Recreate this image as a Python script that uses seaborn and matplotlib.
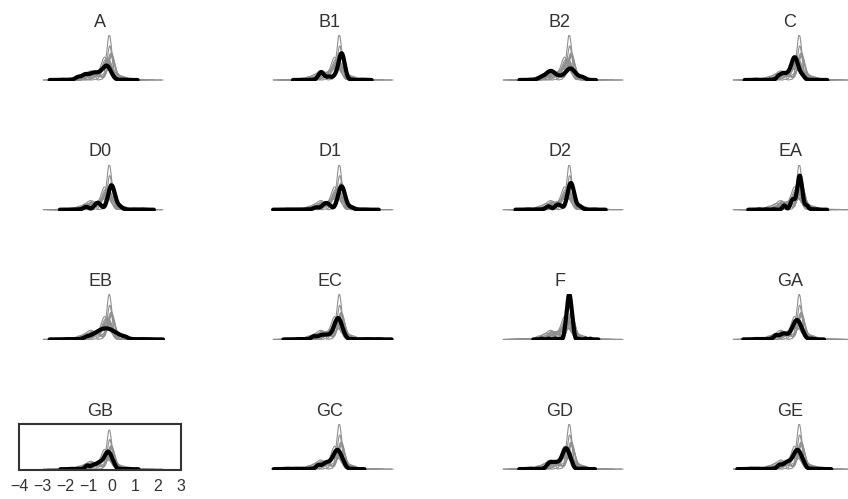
import pandas as pd
import seaborn as sns
import matplotlib.pyplot as plt

sns.set_theme(style="white")
plt.rcParams['font.family'] = ['Liberation Sans', 'DejaVu Sans']

# groups, in panel order
groups = ["A", "B1", "B2", "C", "D0", "D1", "D2", "EA",
          "EB", "EC", "F", "GA", "GB", "GC", "GD", "GE"]

# observations per group: the bulk of each distribution ...
a_body = [-1.45, -1.2, -1.095, -0.918, -0.8, -0.7, -0.58, -0.45, -0.39, -0.3,
          -0.24, -0.2, -0.16, -0.1, 0.0]
b1_body = [-0.96, -0.88, -0.8, -0.55, -0.3, -0.15, -0.1, -0.068, -0.042, -0.021, 0.0,
           0.021, 0.042, 0.068, 0.1, 0.15]
b2_body = [-1.3, -1.08, -0.98, -0.9, -0.82, -0.72, -0.5, -0.3, -0.18, -0.1, -0.05,
           0.0, 0.08, 0.2, 0.45]
c_body = [-1.0, -0.85, -0.75, -0.62, -0.52, -0.443, -0.398, -0.361, -0.33, -0.3,
          -0.27, -0.239, -0.202, -0.157, -0.08, 0.05]
d0_body = [-1.1, -0.7, -0.6, -0.5, -0.17, -0.11, -0.075, -0.047, -0.023, 0.0,
           0.023, 0.047, 0.075, 0.11, 0.17, 0.35]
d1_body = [-1.1, -0.8, -0.7, -0.62, -0.52, -0.17, -0.12, -0.087, -0.062, -0.04,
           -0.019, 0.0, 0.019, 0.04, 0.062, 0.087, 0.12, 0.17, 0.4]
d2_body = [-1.0, -0.65, -0.5, -0.2, -0.14, -0.105, -0.078, -0.053, -0.03, -0.007,
           0.018, 0.045, 0.08, 0.14, 0.35]
ea_body = [-0.75, -0.45, -0.38, -0.32, -0.2, -0.16, -0.135, -0.115, -0.098, -0.08,
           -0.062, -0.045, -0.025, 0.0, 0.04, 0.22]
eb_body = [-1.07, -0.83, -0.69, -0.58, -0.48, -0.4, -0.33, -0.25, -0.17, -0.1,
           -0.02, 0.08, 0.19, 0.33, 0.57]
ec_body = [-1.2, -0.93, -0.75, -0.57, -0.39, -0.3, -0.25, -0.21, -0.18, -0.15,
           -0.12, -0.09, -0.05, 0.0, 0.09]
f_body = [-0.277, -0.22, -0.187, -0.162, -0.14, -0.119, -0.1, -0.081, -0.06, -0.038,
          -0.013, 0.02, 0.077]
ga_body = [-1.1, -0.85, -0.68, -0.47, -0.365, -0.3, -0.248, -0.2, -0.152, -0.1,
           -0.035, 0.07]
gb_body = [-1.05, -0.8, -0.62, -0.5, -0.39, -0.3, -0.24, -0.19, -0.15, -0.11,
           -0.06, -0.005, 0.09]
gc_body = [-1.0, -0.75, -0.6, -0.45, -0.345, -0.28, -0.228, -0.18, -0.132, -0.08,
           -0.015, 0.09]
gd_body = [-1.0, -0.85, -0.7, -0.55, -0.42, -0.35, -0.3, -0.25, -0.21, -0.16,
           -0.105, -0.01]
ge_body = [-0.95, -0.72, -0.58, -0.45, -0.345, -0.28, -0.228, -0.18, -0.132, -0.08,
           -0.015, 0.09]

# ... and a few sparse outlying observations (counted with a small weight)
a_tail = [-2.15, -1.8, 0.3, 0.6]
b1_tail = [-1.65, -1.3, 0.45, 0.85]
b2_tail = [-1.75, -1.5, 0.55]
c_tail = [-2.0, -1.65, -1.3, 0.3, 0.65]
d0_tail = [-1.7, -1.4, 0.6, 0.95, 1.3]
d1_tail = [-2.35, -2.0, -1.7, -1.4, 0.7, 1.0]
d2_tail = [-1.9, -1.55, -1.25, 0.6, 0.95]
ea_tail = [-1.85, -1.55, -1.2, 0.45, 0.65]
eb_tail = [-2.0, -1.7, -1.4, 0.9, 1.25, 1.55]
ec_tail = [-1.9, -1.6, 0.4, 0.8, 1.15, 1.55]
f_tail = [-1.3, -1.0, -0.7, -0.45, 0.3, 0.6, 0.8]
ga_tail = [-2.0, -1.7, -1.4, 0.35, 0.45]
gb_tail = [-1.75, -1.45, 0.35, 0.7]
gc_tail = [-2.35, -2.0, -1.7, -1.35, 0.4]
gd_tail = [-1.8, -1.5, -1.2, 0.3, 0.55]
ge_tail = [-2.2, -1.9, -1.55, -1.25, 0.4, 0.7]
tail_weight = 0.1

x_ticks = [-4, -3, -2, -1, 0, 1, 2, 3]

bodies = [a_body, b1_body, b2_body, c_body, d0_body, d1_body, d2_body, ea_body,
          eb_body, ec_body, f_body, ga_body, gb_body, gc_body, gd_body, ge_body]
tails = [a_tail, b1_tail, b2_tail, c_tail, d0_tail, d1_tail, d2_tail, ea_tail,
         eb_tail, ec_tail, f_tail, ga_tail, gb_tail, gc_tail, gd_tail, ge_tail]

# long-form table
rows = []
for g, body, tail in zip(groups, bodies, tails):
    rows += [(g, v, 1.0) for v in body]
    rows += [(g, v, tail_weight) for v in tail]
df = pd.DataFrame(rows, columns=["group", "value", "w"])

W, H = 848, 499
fig = plt.figure(figsize=(W / 100, H / 100), dpi=100)

gray = "#909090"
bw = 0.25
axes = []
for i, g in enumerate(groups):
    r, c = divmod(i, 4)
    left = 19 + 230 * c
    bottom = 470 - 129.7 * (3 - r)
    ax = fig.add_axes([left / W, 1 - bottom / H, 162 / W, 46 / H])
    sns.kdeplot(data=df, x="value", hue="group", weights="w",
                palette={k: gray for k in groups}, common_norm=False,
                bw_method=bw, linewidth=0.8, legend=False, ax=ax)
    sns.kdeplot(data=df[df["group"] == g], x="value", weights="w", color="black",
                bw_method=bw, linewidth=3, ax=ax)
    ax.set_title(g, fontsize=13, color="#333333", pad=6)
    ax.set_xlim(-4, 3)
    ax.set_xlabel("")
    ax.set_ylabel("")
    axes.append(ax)

ymax = max(line.get_ydata().max() for line in axes[0].lines)
for i, ax in enumerate(axes):
    if groups[i] == "GB":
        ax.set_ylim(-0.02 * ymax, 1.15 * ymax)
        ax.set_yticks([])
        ax.set_xticks(x_ticks)
        ax.tick_params(axis="x", length=0, pad=6.5, labelsize=11.5, labelcolor="#333333")
        for s in ax.spines.values():
            s.set_visible(True)
            s.set_color("#333333")
            s.set_linewidth(1.5)
    else:
        ax.set_ylim(-0.02 * ymax, 1.0 * ymax)
        ax.set_axis_off()

fig.savefig("out.png", dpi=100)
